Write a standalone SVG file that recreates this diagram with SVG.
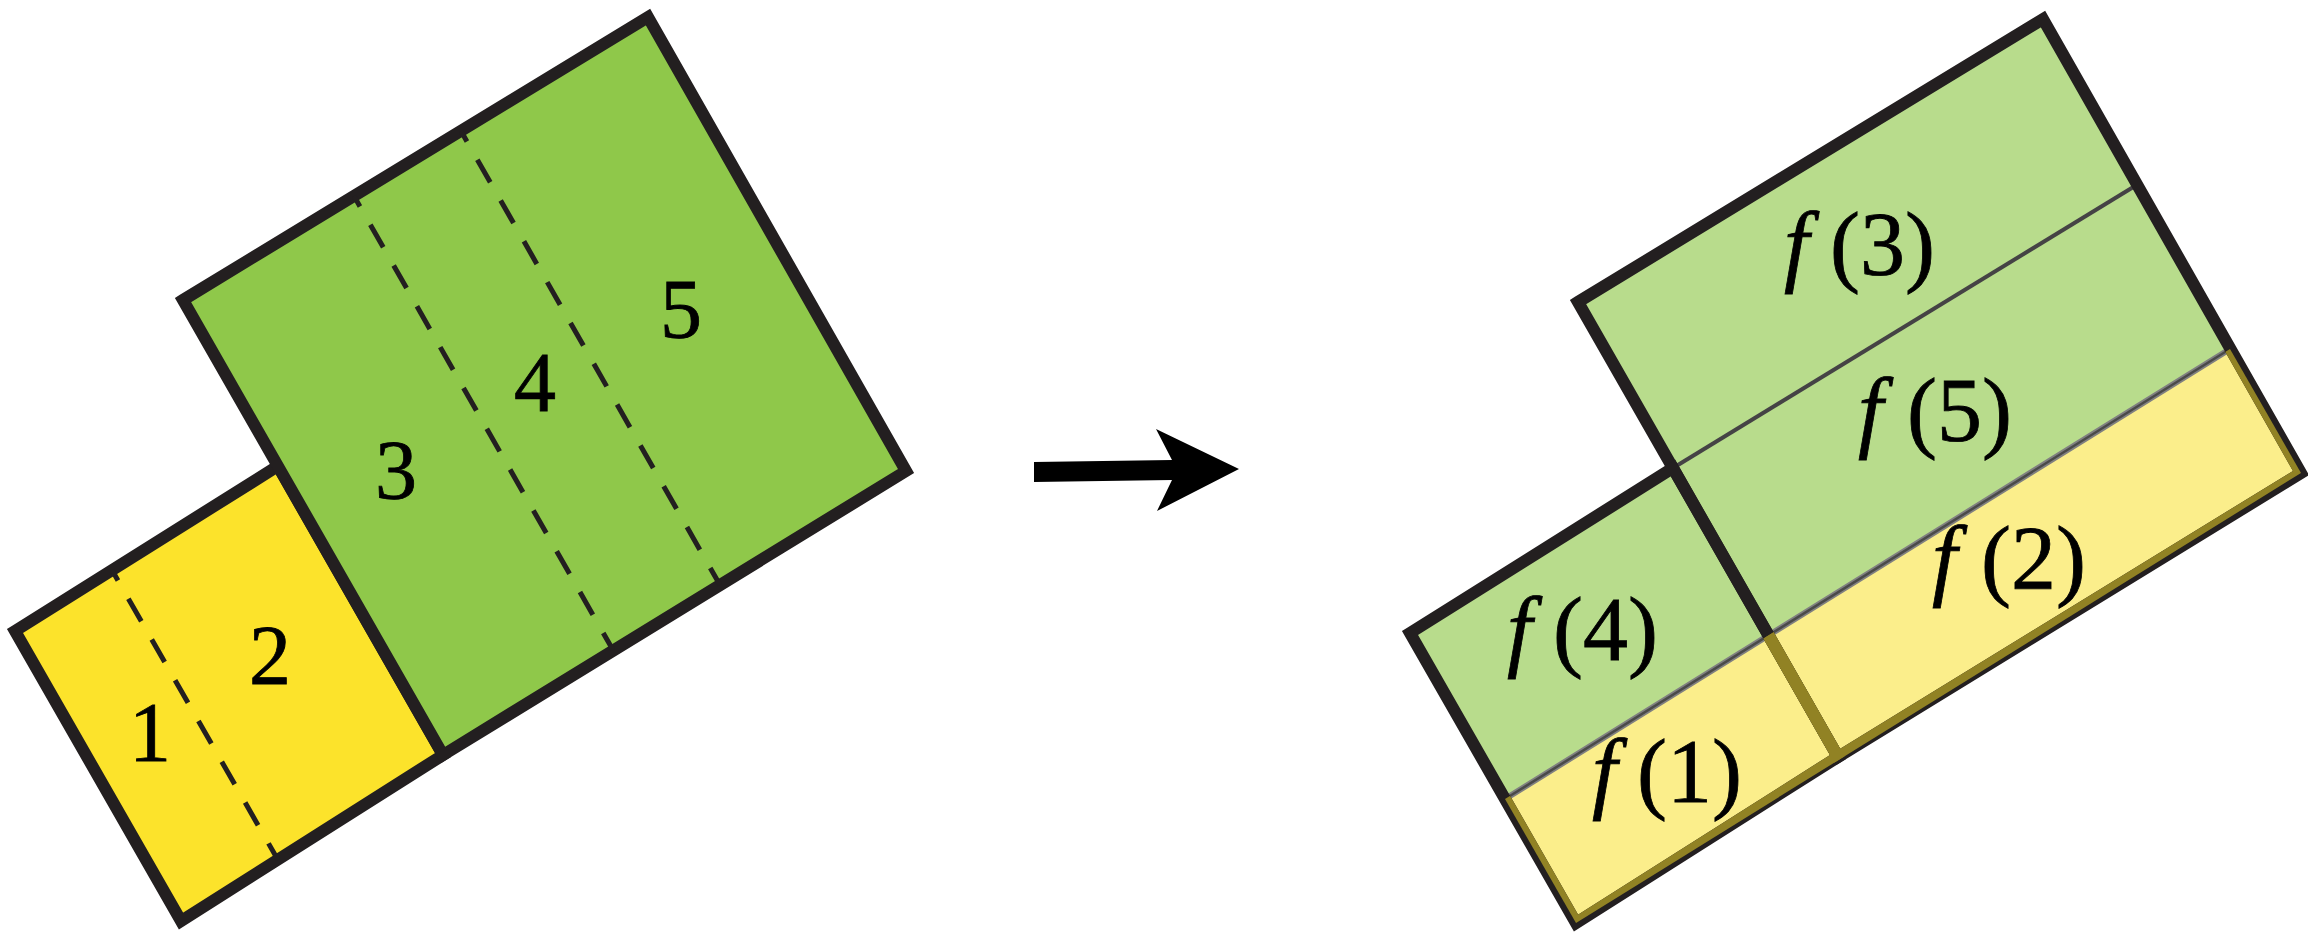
<svg xmlns="http://www.w3.org/2000/svg" width="2308" height="932" viewBox="0 0 2308 932">
<defs>
<style>
.edge{stroke:#231f20;stroke-width:12;stroke-linejoin:miter;stroke-miterlimit:10}
.olive{fill:none;stroke:#918224;stroke-width:12;stroke-linejoin:miter}
.dash{stroke:#231f20;stroke-width:5;stroke-dasharray:26 21;stroke-dashoffset:14;fill:none}
.num{font-family:"Liberation Serif","DejaVu Serif",serif;font-size:84px;fill:#000;stroke:#000;stroke-width:0.8;text-anchor:middle}
.fl{font-family:"Liberation Serif","DejaVu Serif",serif;font-size:90px;fill:#000;stroke:#000;stroke-width:0.8}
.it{font-style:italic}
</style>
<clipPath id="band"><polygon points="110,797 835,347 906,471 181,921"/></clipPath>
</defs>
<rect width="2308" height="932" fill="#fff"/>

<g id="left">
  <g id="yellow-square">
    <polygon class="edge" fill="#fce32b" points="15,631 278,466 443,755 181,921"/>
    <line class="dash" x1="112" y1="570" x2="278" y2="860"/>
  </g>
  <g id="green-square">
    <polygon class="edge" fill="#8fc84a" points="183,300 648,17 906,471 443,755"/>
    <line class="dash" x1="354" y1="196" x2="613" y2="650"/>
    <line class="dash" x1="461" y1="131" x2="720" y2="585"/>
  </g>
  <g id="left-labels">
    <text class="num" x="150" y="761">1</text>
    <text class="num" x="270" y="684">2</text>
    <text class="num" x="396" y="499">3</text>
    <text class="num" x="535" y="411">4</text>
    <text class="num" x="681" y="338">5</text>
  </g>
</g>

<g id="connectors">
  <polygon fill="#000" points="1034,462 1172,460 1156,429 1239,469 1157,511 1172,480 1034,482"/>
</g>

<g id="right" transform="translate(1395,2)">
  <polygon id="right-green" fill="#b8dc8c" points="15,631 278,466 183,300 648,17 906,471 443,755 181,921"/>
  <polygon id="right-band" fill="#fbee8b" points="110,797 835,347 906,471 181,921"/>
  <line x1="278" y1="466" x2="740" y2="184" stroke="#454345" stroke-width="4"/>
  <line x1="110" y1="797" x2="835" y2="347" stroke="#808080" stroke-width="6"/>
  <line x1="110" y1="797" x2="835" y2="347" stroke="#4a4a4a" stroke-width="2.5"/>
  <polygon class="edge" fill="none" points="183,300 648,17 906,471 443,755"/>
  <polygon class="edge" fill="none" points="15,631 278,466 443,755 181,921"/>
  <g clip-path="url(#band)">
    <polygon class="olive" points="183,300 648,17 906,471 443,755"/>
    <polygon class="olive" points="15,631 278,466 443,755 181,921"/>
  </g>
</g>

<g id="right-labels">
  <text class="fl" y="275"><tspan class="it" x="1784">f</tspan><tspan x="1830">(3)</tspan></text>
  <text class="fl" y="441"><tspan class="it" x="1858">f</tspan><tspan x="1907">(5)</tspan></text>
  <text class="fl" y="589"><tspan class="it" x="1932">f</tspan><tspan x="1981">(2)</tspan></text>
  <text class="fl" y="660"><tspan class="it" x="1507">f</tspan><tspan x="1553">(4)</tspan></text>
  <text class="fl" y="802"><tspan class="it" x="1592">f</tspan><tspan x="1637">(1)</tspan></text>
</g>
</svg>
